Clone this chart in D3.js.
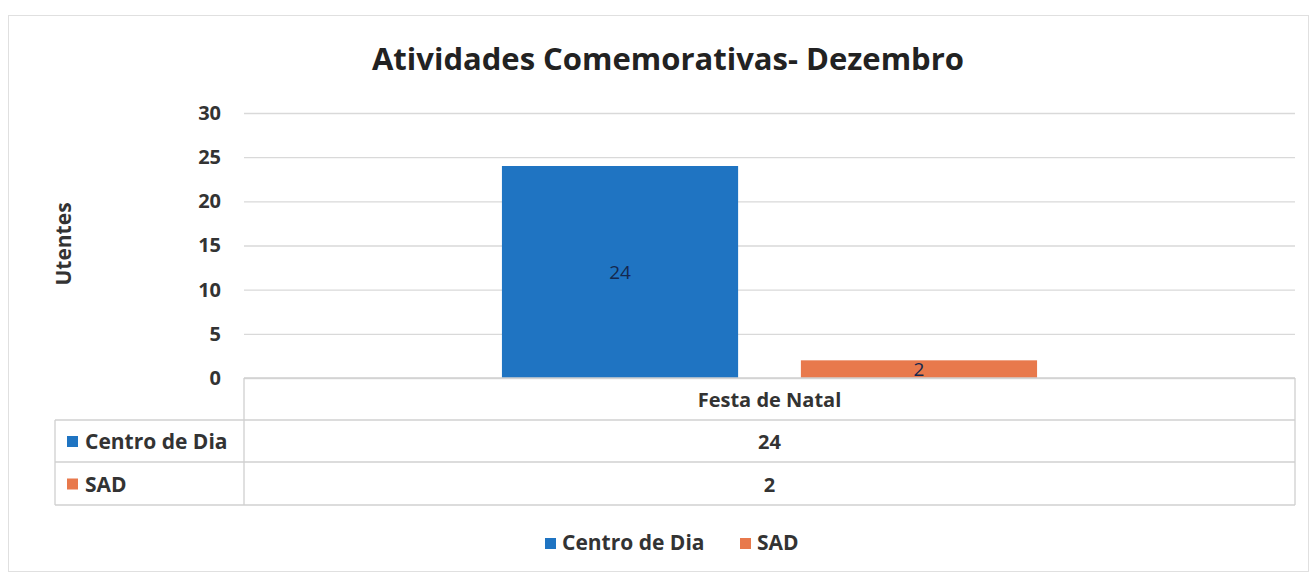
<!DOCTYPE html>
<html><head><meta charset="utf-8">
<script src="https://cdn.jsdelivr.net/npm/d3@7"></script>
<style>body{margin:0;background:#fff}svg{display:block}text{font-family:"Open Sans",Lato,sans-serif}</style>
</head><body>
<svg id="c" width="1314" height="576"></svg>
<script>
const categories = ["Festa de Natal"];
const seriesNames = ["Centro de Dia", "SAD"];
const centroDia = [24];
const sad = [2];
const yTicks = [0, 5, 10, 15, 20, 25, 30];
const colors = ["#1f74c2", "#e8794c"];
const seriesValues = [centroDia, sad];

(function () {
const svg = d3.select("#c");
const txt = "#333";
// outer chart border
svg.append("rect").attr("x", 8.5).attr("y", 15.5).attr("width", 1300).attr("height", 556)
  .attr("fill", "#fff").attr("stroke", "#e0e0e0");

const pLeft = 244, pRight = 1295, pTop = 113, pBottom = 378;
const y = d3.scaleLinear().domain([0, 30]).range([pBottom, pTop]);
const x0 = d3.scaleBand().domain(categories).range([pLeft, pRight]).paddingInner(0).paddingOuter(0.482);
const x1 = d3.scaleBand().domain(seriesNames).range([0, x0.bandwidth()]).paddingInner(0.21).paddingOuter(0);

// title
svg.append("text").attr("x", 668).attr("y", 70).attr("text-anchor", "middle")
  .attr("font-size", 31).attr("font-weight", "bold").attr("fill", "#222")
  .text("Atividades Comemorativas- Dezembro");

// gridlines + y axis
const yAxis = d3.axisLeft(y).tickValues(yTicks).tickSize(-(pRight - pLeft)).tickPadding(23);
const ga = svg.append("g").attr("transform", `translate(${pLeft},0)`).call(yAxis);
ga.select(".domain").remove();
ga.selectAll(".tick line").attr("stroke", "#d9d9d9").attr("stroke-width", 1.3);
ga.selectAll(".tick text").attr("font-size", 20).attr("font-weight", "bold").attr("fill", txt)
  .attr("font-family", "'Open Sans', sans-serif");

// y title
svg.append("text").attr("transform", "translate(71,244) rotate(-90)").attr("text-anchor", "middle")
  .attr("font-size", 21).attr("font-weight", "bold").attr("fill", txt).text("Utentes");

// bars
const g = svg.append("g");
categories.forEach((c, ci) => {
  seriesNames.forEach((s, si) => {
    const v = seriesValues[si][ci];
    const bx = x0(c) + x1(s);
    g.append("rect").attr("x", bx).attr("y", y(v)).attr("width", x1.bandwidth())
      .attr("height", y(0) - y(v)).attr("fill", colors[si]);
    g.append("text").attr("x", bx + x1.bandwidth() / 2).attr("y", (y(v) + y(0)) / 2 + 7)
      .attr("text-anchor", "middle").attr("font-size", 19).attr("fill", "#14284f").text(v);
  });
});

// data table
const rowY = [378, 420, 462, 505];
const tableLeft = 55;
const tg = svg.append("g").attr("stroke", "#d0d0d0").attr("stroke-width", 1.3).attr("fill", "none");
tg.append("line").attr("x1", pLeft).attr("x2", pRight).attr("y1", rowY[0]).attr("y2", rowY[0]);
[1, 2, 3].forEach(i => tg.append("line").attr("x1", tableLeft).attr("x2", pRight).attr("y1", rowY[i]).attr("y2", rowY[i]));
tg.append("line").attr("x1", pLeft).attr("x2", pLeft).attr("y1", rowY[0]).attr("y2", rowY[3]);
tg.append("line").attr("x1", pRight).attr("x2", pRight).attr("y1", rowY[0]).attr("y2", rowY[3]);
tg.append("line").attr("x1", tableLeft).attr("x2", tableLeft).attr("y1", rowY[1]).attr("y2", rowY[3]);

categories.forEach((c, ci) => {
  svg.append("text").attr("x", x0(c) + x0.bandwidth() / 2).attr("y", (rowY[0] + rowY[1]) / 2 + 8)
    .attr("text-anchor", "middle").attr("font-size", 20).attr("font-weight", "bold").attr("fill", txt).text(c);
  seriesNames.forEach((s, si) => {
    svg.append("text").attr("x", x0(c) + x0.bandwidth() / 2).attr("y", (rowY[si + 1] + rowY[si + 2]) / 2 + 8)
      .attr("text-anchor", "middle").attr("font-size", 20).attr("font-weight", "bold").attr("fill", txt).text(seriesValues[si][ci]);
  });
});
seriesNames.forEach((s, si) => {
  const cy = (rowY[si + 1] + rowY[si + 2]) / 2;
  svg.append("rect").attr("x", 67).attr("y", cy - 5).attr("width", 11).attr("height", 11).attr("fill", colors[si]);
  svg.append("text").attr("x", 85).attr("y", cy + 8).attr("font-size", 21).attr("font-weight", "bold")
    .attr("fill", txt).text(s);
});

// legend
const legendX = [545, 740];
seriesNames.forEach((s, si) => {
  svg.append("rect").attr("x", legendX[si]).attr("y", 538).attr("width", 11).attr("height", 11).attr("fill", colors[si]);
  svg.append("text").attr("x", legendX[si] + 17).attr("y", 550).attr("font-size", 21).attr("font-weight", "bold")
    .attr("fill", txt).text(s);
});
})();
</script>
</body></html>
